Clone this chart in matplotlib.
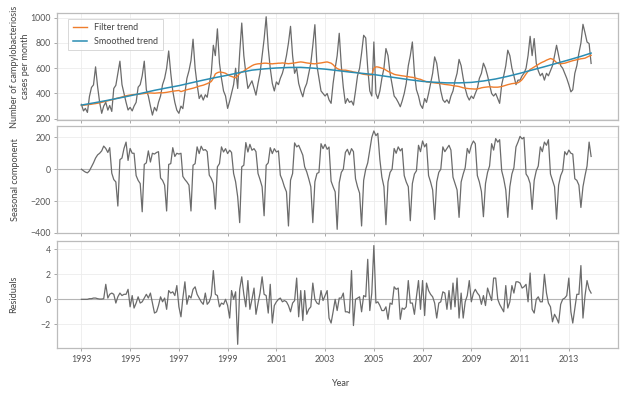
import numpy as np
import pandas as pd
import matplotlib
matplotlib.use("Agg")
import matplotlib.pyplot as plt
import datetime as dt

# ---------------- data (monthly, Jan 1993 - Dec 2013) ----------------
raw_cases = [
    314, 262, 282, 250, 376, 448, 468, 611, 452, 330, 243, 300,   # 1993
    330, 268, 305, 258, 440, 465, 560, 656, 470, 400, 330, 269,   # 1994
    290, 262, 300, 330, 450, 470, 540, 656, 430, 380, 300, 229,   # 1995
    290, 262, 330, 380, 470, 520, 600, 737, 560, 420, 330, 268,   # 1996
    243, 300, 280, 400, 520, 580, 660, 830, 600, 470, 360, 390,   # 1997
    348, 390, 370, 470, 560, 782, 700, 912, 640, 520, 420, 380,   # 1998
    282, 340, 400, 470, 600, 440, 720, 958, 700, 560, 440, 470,   # 1999
    500, 440, 387, 480, 560, 700, 830, 1008, 760, 600, 480, 420,  # 2000
    492, 470, 520, 560, 620, 700, 800, 932, 700, 560, 600, 480,   # 2001
    420, 374, 440, 480, 560, 640, 780, 945, 620, 520, 420, 400,   # 2002
    380, 400, 350, 322, 480, 600, 700, 877, 620, 450, 322, 360,   # 2003
    330, 340, 308, 420, 540, 600, 720, 861, 840, 600, 420, 380,   # 2004
    808, 400, 360, 420, 520, 600, 756, 700, 560, 470, 380, 360,   # 2005
    330, 295, 340, 400, 480, 620, 700, 808, 560, 430, 380, 310,   # 2006
    282, 360, 330, 400, 480, 560, 690, 640, 520, 420, 350, 330,   # 2007
    350, 322, 380, 420, 500, 560, 670, 620, 520, 440, 380, 348,   # 2008
    380, 360, 400, 440, 520, 560, 640, 600, 540, 470, 400, 380,   # 2009
    400, 360, 322, 470, 540, 620, 743, 700, 600, 540, 470, 506,   # 2010
    506, 540, 560, 600, 700, 853, 700, 835, 640, 580, 540, 560,   # 2011
    506, 560, 540, 580, 620, 700, 782, 700, 620, 600, 560, 520,   # 2012
    470, 413, 430, 560, 620, 720, 800, 948, 880, 808, 795, 638,   # 2013
]

filter_trend = [
    305, 307, 309, 311, 313, 315, 318, 320, 323, 326, 330, 334,
    338, 342, 346, 350, 355, 360, 364, 368, 372, 378, 382, 385,
    388, 390, 392, 392, 394, 396, 398, 400, 402, 404, 404, 403,
    402, 404, 405, 406, 405, 407, 409, 412, 415, 418, 420, 422,
    424, 415, 420, 426, 430, 434, 438, 442, 447, 452, 458, 462,
    466, 472, 478, 486, 495, 520, 555, 565, 570, 568, 565, 560,
    550, 540, 535, 530, 524, 540, 560, 570, 578, 590, 600, 610,
    620, 628, 632, 635, 636, 638, 640, 640, 638, 636, 635, 637,
    638, 640, 640, 642, 640, 638, 636, 638, 640, 642, 645, 648,
    650, 648, 645, 642, 640, 638, 636, 635, 638, 640, 642, 645,
    648, 650, 645, 640, 628, 610, 598, 590, 585, 585, 585, 582,
    578, 575, 570, 568, 565, 560, 556, 552, 550, 548, 546, 548,
    600, 611, 610, 606, 600, 595, 585, 575, 568, 560, 552, 548,
    545, 542, 540, 538, 535, 533, 530, 528, 525, 520, 515, 512,
    505, 498, 492, 490, 488, 486, 484, 482, 480, 478, 475, 472,
    470, 468, 466, 462, 460, 458, 455, 450, 445, 442, 440, 438,
    437, 436, 435, 437, 440, 445, 448, 450, 452, 453, 452, 450,
    450, 450, 452, 455, 460, 465, 470, 474, 478, 480, 482, 485,
    495, 510, 530, 555, 575, 590, 600, 610, 620, 630, 640, 648,
    655, 664, 670, 677, 672, 660, 645, 637, 635, 638, 640, 645,
    650, 655, 660, 664, 668, 672, 675, 677, 680, 688, 696, 702,
]

# smoothed trend, half-yearly knots (Jan/Jul) plus Dec 2013
smooth_trend = [
    308, 325, 343, 362, 382, 403, 425, 444, 462, 484, 506, 526,
    545, 566, 585, 595, 602, 606, 607, 601, 593, 582, 570, 560,
    550, 536, 522, 508, 496, 489, 484, 484, 488, 499, 515, 536,
    560, 586, 612, 639, 666, 694, 720,
]

seasonal = [
    0, -10, -18, -23, -10, 15, 40, 70, 90, 100, 115, 145,
    130, 105, 135, -25, -65, -80, -231, 60, 70, 130, 170, 55,
    130, 100, 100, -40, -70, -90, -267, 30, 40, 115, 45, 100,
    95, 105, 110, -55, -70, -100, -262, 30, 35, 135, 80, 100,
    95, 100, -45, -65, -80, -100, -262, 25, 35, 140, 98, 144,
    119, 123, 110, -37, -58, -90, -250, 15, 35, 140, 108, 129,
    98, 119, 105, -27, -79, -173, -335, 15, 25, 167, 108, 156,
    119, 129, 110, -27, -65, -110, -292, 25, 40, 135, 98, 129,
    108, 115, -37, -69, -110, -142, -356, -69, -27, 165, 140, 150,
    120, 88, 15, -17, -60, -110, -335, -79, -27, -20, 160, 129,
    156, 125, 139, -75, -110, -142, -377, -85, -20, 0, 105, 125,
    90, 129, 110, -60, -110, -150, -356, -70, 0, 40, 120, 200,
    240, 210, 225, 60, -50, -110, -348, -80, -20, 0, 130, 100,
    140, 115, 130, -40, -80, -110, -323, -90, -30, -10, 150, 110,
    177, 140, 160, -40, -80, -130, -315, -80, -20, 0, 140, 110,
    130, 150, 120, -50, -90, -130, -302, -80, -30, 10, 130, 100,
    150, 177, 160, -40, -80, -140, -298, -90, -20, 20, 160, 120,
    192, 170, 185, -10, -60, -130, -302, -110, -30, 10, 140, 170,
    206, 190, 200, -30, -50, -90, -252, -70, -10, 20, 140, 110,
    170, 150, 185, -30, -70, -110, -313, -100, -40, -10, 110, 90,
    120, 100, 95, -60, -70, -100, -240, -110, -40, 20, 170, 80,
]

residuals = [
    0, 0, 0, 0, 0.05, 0.05, 0.1, 0.1, 0.05, 0.02, 0.02, 0.05,
    1.2, 0.1, 0.4, 0.5, 0.4, -0.3, 0.2, 0.5, 0.3, 0.4, 0.4, 0.8,
    -0.6, 0.3, -0.7, -0.3, 0.2, -0.3, -0.2, 0.1, 0.4, 0.1, 0.5, -0.3,
    -1.1, -1.0, -0.5, 0.2, -0.2, 0.1, -0.8, 0.7, 0.5, 0.6, 0.3, 1.1,
    -0.6, -1.4, 0.1, 1.4, -0.4, 0.3, 0.1, 0.8, 1.0, 0.4, 0.1, -0.2,
    -0.4, 0.5, -0.4, -0.2, 0.3, 2.3, 0.4, 0.3, -0.6, -0.3, -0.4, 0.0,
    -0.5, -1.5, 0.7, 0.0, 0.6, -3.6, 0.8, 1.8, 0.4, -0.6, 1.5, -0.8,
    0.0, 0.9, -1.2, -0.3, 0.5, 1.8, 0.4, 0.3, -1.1, 1.2, -1.9, -0.5,
    -0.2, 0.0, 0.1, -0.2, -0.1, -0.2, -0.5, -1.0, -0.3, -0.1, 1.7, -1.4,
    0.7, -1.7, 0.7, -1.2, -0.8, -0.6, 1.3, 0.0, -0.3, -0.4, 0.7, -0.1,
    0.3, 0.7, -1.5, -1.9, -1.0, 0.0, -0.9, 0.1, 0.1, 0.5, -1.0, -1.0,
    -1.1, 2.3, -2.1, 0.0, 0.1, 0.2, -1.0, 0.3, 0.2, 3.2, -0.9, 0.5,
    4.3, -0.3, -0.2, -0.5, -0.9, -0.9, -0.6, -1.6, -0.3, -0.4, 1.0, 0.8,
    0.9, -1.6, -0.7, -0.8, -0.6, 1.5, -0.3, -0.3, -1.2, 0.2, 1.5, -0.8,
    1.5, -1.3, 1.3, 0.7, 0.4, 0.2, -0.3, -1.5, -0.3, -0.2, 0.6, 0.5,
    -0.8, 0.7, -0.8, 1.3, -0.6, 1.7, -1.5, 0.5, -1.5, -0.2, 0.3, 1.5,
    -0.2, 0.5, 0.8, 0.5, 0.3, -0.4, 0.3, -0.5, 0.9, 0.4, -0.1, 1.7,
    1.7, 0.0, -0.4, -0.7, -1.0, 1.1, -0.7, -0.2, 1.1, 0.5, 1.4, 1.4,
    1.3, 0.9, 1.0, 1.2, -0.2, 2.1, -0.8, -1.1, 0.0, 0.2, -0.2, -0.2,
    2.0, 0.5, -0.3, -0.6, -1.8, -1.2, -1.5, -1.9, -0.4, 0.0, 0.1, 0.3,
    1.7, -1.0, -1.9, -0.7, 0.4, 0.4, 2.7, -1.5, 0.3, 1.5, 0.8, 0.5,
]

tick_years = [1993, 1995, 1997, 1999, 2001, 2003, 2005, 2007, 2009, 2011, 2013]

# ---------------- figure ----------------
plt.rcParams['font.family'] = ['Lato', 'DejaVu Sans']

dates = pd.date_range('1993-01-01', periods=len(raw_cases), freq='MS')
smooth_dates = list(pd.date_range('1993-01-01', periods=len(smooth_trend) - 1, freq='6MS')) + [pd.Timestamp('2013-12-01')]

W_PX, H_PX = 628, 393
fig = plt.figure(figsize=(W_PX / 100, H_PX / 100), dpi=100)

left, right = 57, 618
def add_panel(top, bottom):
    return fig.add_axes([left / W_PX, 1 - bottom / H_PX, (right - left) / W_PX, (bottom - top) / H_PX])

ax1 = add_panel(12.7, 120.0)
ax2 = add_panel(126.0, 233.3)
ax3 = add_panel(240.7, 348.3)

RAW_C = '#6b6b6b'
ORANGE = '#ef7d2d'
BLUE = '#2a8db3'

ax1.plot(dates, raw_cases, color=RAW_C, lw=0.9, zorder=3)
ax1.plot(dates, filter_trend, color=ORANGE, lw=1.0, zorder=4, label='Filter trend')
ax1.plot(smooth_dates, smooth_trend, color=BLUE, lw=1.1, zorder=5, label='Smoothed trend')

ax2.axhline(0, color='#b5b5b5', lw=0.8, zorder=2)
ax2.plot(dates, seasonal, color=RAW_C, lw=0.9, zorder=3)

ax3.axhline(0, color='#b5b5b5', lw=0.8, zorder=2)
ax3.plot(dates, residuals, color=RAW_C, lw=0.9, zorder=3)

xlim = (dt.datetime(1992, 1, 1), dt.datetime(2015, 1, 8))
ticks = [dt.datetime(y, 1, 1) for y in tick_years]

for ax in (ax1, ax2, ax3):
    ax.set_xlim(*xlim)
    ax.set_xticks(ticks)
    ax.grid(True, color='#ececec', lw=0.6, zorder=0)
    ax.set_axisbelow(True)
    for s in ax.spines.values():
        s.set_color('#bcbcbc')
        s.set_linewidth(0.9)
    ax.tick_params(axis='both', length=2.5, width=0.6, color='#9a9a9a',
                   labelsize=6.3, labelcolor='#555555', pad=2)

ax1.set_xticklabels([])
ax2.set_xticklabels([])
ax3.set_xticklabels([str(y) for y in tick_years])

ax1.set_ylim(190, 1040)
ax1.set_yticks([200, 400, 600, 800, 1000])
ax2.set_ylim(-402, 271)
ax2.set_yticks([-400, -200, 0, 200])
ax3.set_ylim(-3.92, 4.69)
ax3.set_yticks([-2, 0, 2, 4])

lab_kw = dict(fontsize=6.6, color='#444444')
fig.text(20 / W_PX, 1 - 66.4 / H_PX, 'Number of campylobacteriosis\ncases per month',
         rotation=90, ha='center', va='center', multialignment='center',
         linespacing=1.15, **lab_kw)
fig.text(15 / W_PX, 1 - 179.7 / H_PX, 'Seasonal component',
         rotation=90, ha='center', va='center', **lab_kw)
fig.text(14 / W_PX, 1 - 294.5 / H_PX, 'Residuals',
         rotation=90, ha='center', va='center', **lab_kw)

fig.text(340 / W_PX, 1 - 383 / H_PX, 'Year', ha='center', va='center', **lab_kw)

leg = ax1.legend(loc='upper left', bbox_to_anchor=(0.012, 0.985), fontsize=6.5,
                 frameon=True, fancybox=False, edgecolor='#cfcfcf', handlelength=1.6,
                 borderpad=0.5, labelspacing=0.5, handletextpad=0.8)
leg.get_frame().set_linewidth(0.7)
for t in leg.get_texts():
    t.set_color('#444444')

fig.savefig('out.png', dpi=100, facecolor='white')
